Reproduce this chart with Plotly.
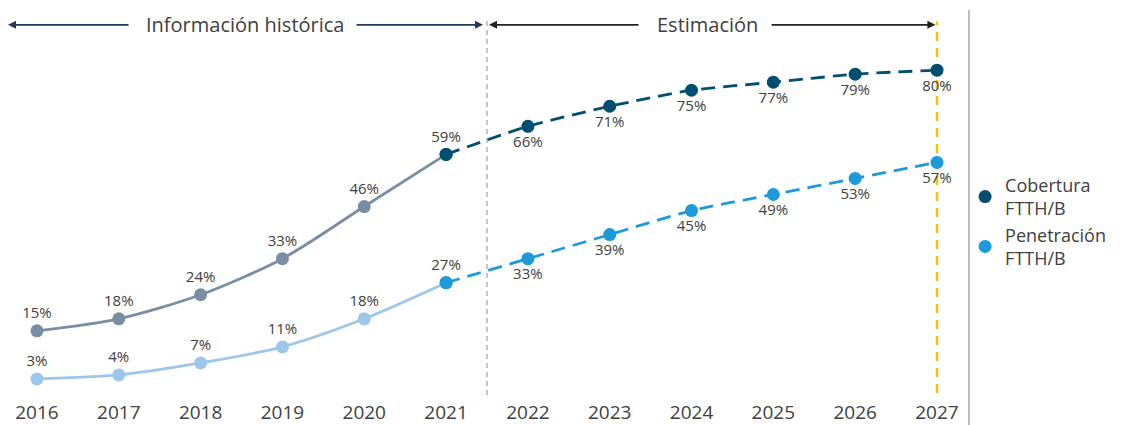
import plotly.graph_objects as go

years_hist = [2016, 2017, 2018, 2019, 2020, 2021]
years_est = [2021, 2022, 2023, 2024, 2025, 2026, 2027]
tick_years = [2016, 2017, 2018, 2019, 2020, 2021, 2022, 2023, 2024, 2025, 2026, 2027]

cob_hist = [15, 18, 24, 33, 46, 59]
cob_est = [59, 66, 71, 75, 77, 79, 80]
pen_hist = [3, 4, 7, 11, 18, 27]
pen_est = [27, 33, 39, 45, 49, 53, 57]

series_names = ["Cobertura<br>FTTH/B", "Penetración<br>FTTH/B"]

C_COB_H = "#7a8ea3"
C_COB_E = "#004e70"
C_PEN_H = "#9cc6ea"
C_PEN_E = "#1c9ad9"
TXT = "#404040"
FONT = "Open Sans"

fig = go.Figure()

def pct(v):
    return [f"{x}%" for x in v]

# estimate (dashed) lines
fig.add_trace(go.Scatter(
    x=years_est, y=cob_est, mode="lines+markers+text",
    line=dict(color=C_COB_E, width=2.8, dash="14px,8px", shape="spline", smoothing=0.6),
    marker=dict(color=C_COB_E, size=13),
    text=[""] + pct(cob_est[1:]), textposition="bottom center",
    textfont=dict(size=15, color=TXT, family=FONT), showlegend=False, hoverinfo="skip"))
fig.add_trace(go.Scatter(
    x=years_est, y=pen_est, mode="lines+markers+text",
    line=dict(color=C_PEN_E, width=2.8, dash="14px,8px", shape="spline", smoothing=0.6),
    marker=dict(color=C_PEN_E, size=13),
    text=[""] + pct(pen_est[1:]), textposition="bottom center",
    textfont=dict(size=15, color=TXT, family=FONT), showlegend=False, hoverinfo="skip"))

# historical (solid) lines
fig.add_trace(go.Scatter(
    x=years_hist, y=cob_hist, mode="lines+markers+text",
    line=dict(color=C_COB_H, width=2.8, shape="spline", smoothing=0.8),
    marker=dict(color=[C_COB_H] * 5 + [C_COB_E], size=13),
    text=pct(cob_hist), textposition="top center",
    textfont=dict(size=15, color=TXT, family=FONT), showlegend=False, hoverinfo="skip"))
fig.add_trace(go.Scatter(
    x=years_hist, y=pen_hist, mode="lines+markers+text",
    line=dict(color=C_PEN_H, width=2.8, shape="spline", smoothing=0.8),
    marker=dict(color=[C_PEN_H] * 5 + [C_PEN_E], size=13),
    text=pct(pen_hist), textposition="top center",
    textfont=dict(size=15, color=TXT, family=FONT), showlegend=False, hoverinfo="skip"))

# legend entries
for name, col in zip(series_names, [C_COB_E, C_PEN_E]):
    fig.add_trace(go.Scatter(x=[None], y=[None], mode="markers", name=name,
                             marker=dict(color=col, size=13)))

x_lo, x_hi = 2015.548, 2027.379
y_lo, y_hi = 0, 97.5

shapes = [
    dict(type="line", xref="x", yref="paper", x0=2021.5, x1=2021.5, y0=-0.01, y1=0.95,
         layer="below", line=dict(color="#a0a0a0", width=1.2, dash="5px,4px")),
    dict(type="line", xref="x", yref="paper", x0=2027, x1=2027, y0=-0.005, y1=0.945,
         layer="below", line=dict(color="#f5c400", width=2.5, dash="9px,7px")),
    dict(type="line", xref="paper", yref="paper", x0=1.001, x1=1.001, y0=-0.09, y1=0.975,
         line=dict(color="#a8a8a8", width=1.5)),
]

ya = 91.3
annotations = [
    dict(x=2018.54, y=ya, text="Información histórica", showarrow=False,
         font=dict(size=20, color=TXT, family=FONT)),
    dict(x=2024.19, y=ya, text="Estimación", showarrow=False,
         font=dict(size=20, color=TXT, family=FONT)),
]

def arrow(x_head, x_tail, color):
    return dict(x=x_head, y=ya, ax=x_tail, ay=ya, axref="x", ayref="y", xref="x", yref="y",
                text="", showarrow=True, arrowhead=2, arrowsize=1, arrowwidth=1.6,
                arrowcolor=color, standoff=0, startstandoff=0)

annotations += [
    arrow(2015.646, 2017.137, "#1f3a5f"),
    arrow(2021.451, 2019.887, "#1f3a5f"),
    arrow(2021.525, 2023.37, "#222222"),
    arrow(2026.98, 2024.96, "#222222"),
]

fig.update_layout(
    width=1127, height=425,
    margin=dict(l=0, r=159, t=0, b=34),
    paper_bgcolor="white", plot_bgcolor="white",
    font=dict(family=FONT, color=TXT),
    xaxis=dict(range=[x_lo, x_hi], tickmode="array", tickvals=tick_years,
               ticktext=[str(y) for y in tick_years], showgrid=False, zeroline=False,
               showline=False, ticks="", ticklabelstandoff=8,
               tickfont=dict(size=19, color=TXT, family=FONT)),
    yaxis=dict(range=[y_lo, y_hi], visible=False, showgrid=False, zeroline=False),
    legend=dict(x=0.997, y=0.433, xanchor="left", yanchor="middle",
                font=dict(size=18, color=TXT, family=FONT), itemwidth=30,
                tracegroupgap=0, bgcolor="rgba(0,0,0,0)"),
    shapes=shapes, annotations=annotations,
)

fig.write_html("out.html", config={"displayModeBar": False},
               post_script="document.body.style.margin='0';document.body.style.padding='0';")
